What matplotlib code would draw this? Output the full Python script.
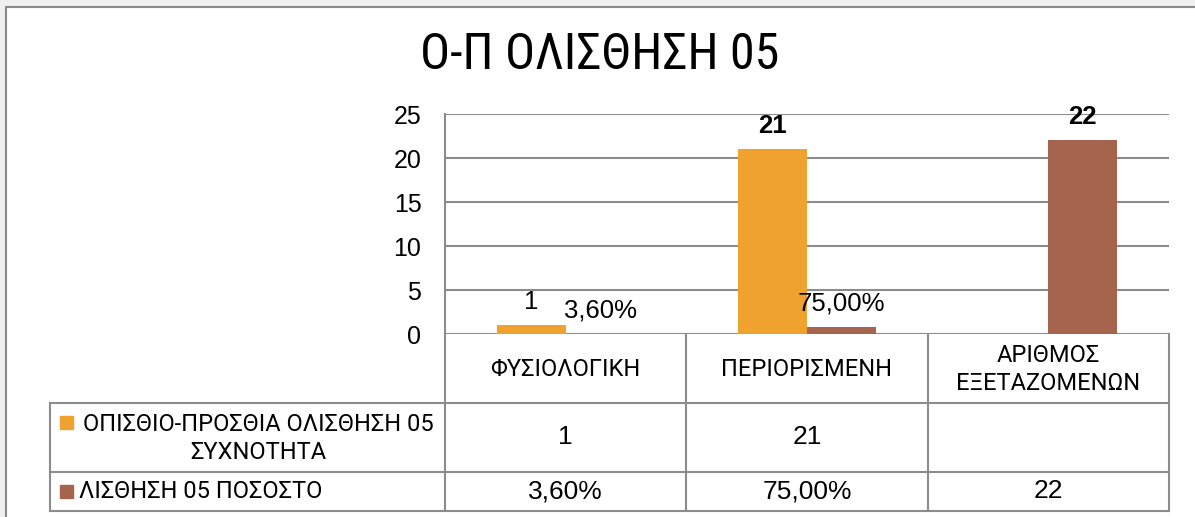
import numpy as np
import matplotlib
matplotlib.use("Agg")
import matplotlib.pyplot as plt
from matplotlib.patches import Rectangle

# data
title = "Ο-Π ΟΛΙΣΘΗΣΗ 05"
categories = ["ΦΥΣΙΟΛΟΓΙΚΗ", "ΠΕΡΙΟΡΙΣΜΕΝΗ", "ΑΡΙΘΜΟΣ\nΕΞΕΤΑΖΟΜΕΝΩΝ"]
series_names = ["ΟΠΙΣΘΙΟ-ΠΡΟΣΘΙΑ ΟΛΙΣΘΗΣΗ 05\nΣΥΧΝΟΤΗΤΑ", "ΛΙΣΘΗΣΗ 05 ΠΟΣΟΣΤΟ"]
freq = [1, 21, np.nan]
pct = [0.036, 0.75, 22]
freq_labels = ["1", "21", ""]
pct_labels = ["3,60%", "75,00%", "22"]
yticks = [0, 5, 10, 15, 20, 25]

ORANGE = "#F0A22E"
BROWN = "#A5644E"
GRID = "#8c8c8c"

COND = ["Roboto Condensed", "DejaVu Sans"]
NARROW = ["Roboto", "DejaVu Sans"]
REG = ["Liberation Sans", "DejaVu Sans"]

W, H = 1195, 517
fig = plt.figure(figsize=(W / 100, H / 100), dpi=100)
fig.patch.set_facecolor("#f0f0f0")

# chart area (white, grey border on left/top)
fig.patches.append(Rectangle((6 / W, -0.1), 1.2, (H - 7) / H + 0.1, transform=fig.transFigure,
                             facecolor="white", edgecolor="#8a8a8a", linewidth=1.5, zorder=-5))

fig.text(600 / W, 1 - 55 / H, title, ha="center", va="center", fontsize=36, family=COND)

# plot area in pixels
x0, x1, ytop, y0 = 445, 1169, 114, 334
ax = fig.add_axes([x0 / W, 1 - y0 / H, (x1 - x0) / W, (y0 - ytop) / H])
ax.set_facecolor("none")
idx = np.arange(len(categories))
bw = 0.286
b1 = ax.bar(idx - bw / 2, freq, bw, color=ORANGE, zorder=3)
b2 = ax.bar(idx + bw / 2, pct, bw, color=BROWN, zorder=3)
ax.set_xlim(-0.5, len(categories) - 0.5)
ax.set_ylim(0, 25)
ax.set_yticks(yticks)
ax.set_xticks([])
ax.yaxis.grid(True, color=GRID, linewidth=1.5)
ax.set_axisbelow(True)
ax.tick_params(axis="y", length=0, pad=17, labelsize=18)
for lab in ax.get_yticklabels():
    lab.set_family(REG)
for s in ["top", "right", "bottom"]:
    ax.spines[s].set_visible(False)
ax.spines["left"].set_color(GRID)
ax.spines["left"].set_linewidth(1.5)

bold = {"21", "22"}
for bars, labs in ((b1, freq_labels), (b2, pct_labels)):
    for r, t in zip(bars, labs):
        if not t:
            continue
        ax.annotate(t, (r.get_x() + r.get_width() / 2, r.get_height()), xytext=(0, 17),
                    textcoords="offset points", ha="center", va="center", fontsize=18.5,
                    family=REG, fontweight="bold" if t in bold else "normal")

# data table below the axis, in pixel coordinates
tab = fig.add_axes([0, 0, 1, 1])
tab.set_xlim(0, W)
tab.set_ylim(H, 0)
tab.axis("off")
tab.patch.set_visible(False)
cw = (x1 - x0) / len(categories)
rows = [334, 403, 472, 511]
tl = 50
lw = 1.5
for i in range(len(categories) + 1):
    tab.plot([x0 + i * cw] * 2, [rows[0], rows[-1]], color=GRID, lw=lw)
tab.plot([tl, tl], [rows[1], rows[-1]], color=GRID, lw=lw)
for y in rows[1:]:
    tab.plot([tl, x1], [y, y], color=GRID, lw=lw)

for i, c in enumerate(categories):
    tab.text(x0 + (i + 0.5) * cw, (rows[0] + rows[1]) / 2 + 1, c, ha="center", va="center",
             fontsize=17, family=NARROW, linespacing=1.32)

colors = [ORANGE, BROWN]
for r, (name, col) in enumerate(zip(series_names, colors)):
    yc = (rows[r + 1] + rows[r + 2]) / 2
    if "\n" in name:
        tab.add_patch(Rectangle((60, 416), 13, 13, color=col))
        tab.text(258, yc + 1, name, ha="center", va="center", fontsize=17, family=NARROW,
                 linespacing=1.32)
    else:
        tab.add_patch(Rectangle((60, yc - 6.5), 13, 13, color=col))
        tab.text(79, yc, name, ha="left", va="center", fontsize=17, family=NARROW)

for r, labs in enumerate((freq_labels, pct_labels)):
    yc = (rows[r + 1] + rows[r + 2]) / 2
    for i, t in enumerate(labs):
        tab.text(x0 + (i + 0.5) * cw, yc, t, ha="center", va="center", fontsize=19, family=REG)

fig.savefig("out.png", dpi=100, facecolor=fig.get_facecolor())
